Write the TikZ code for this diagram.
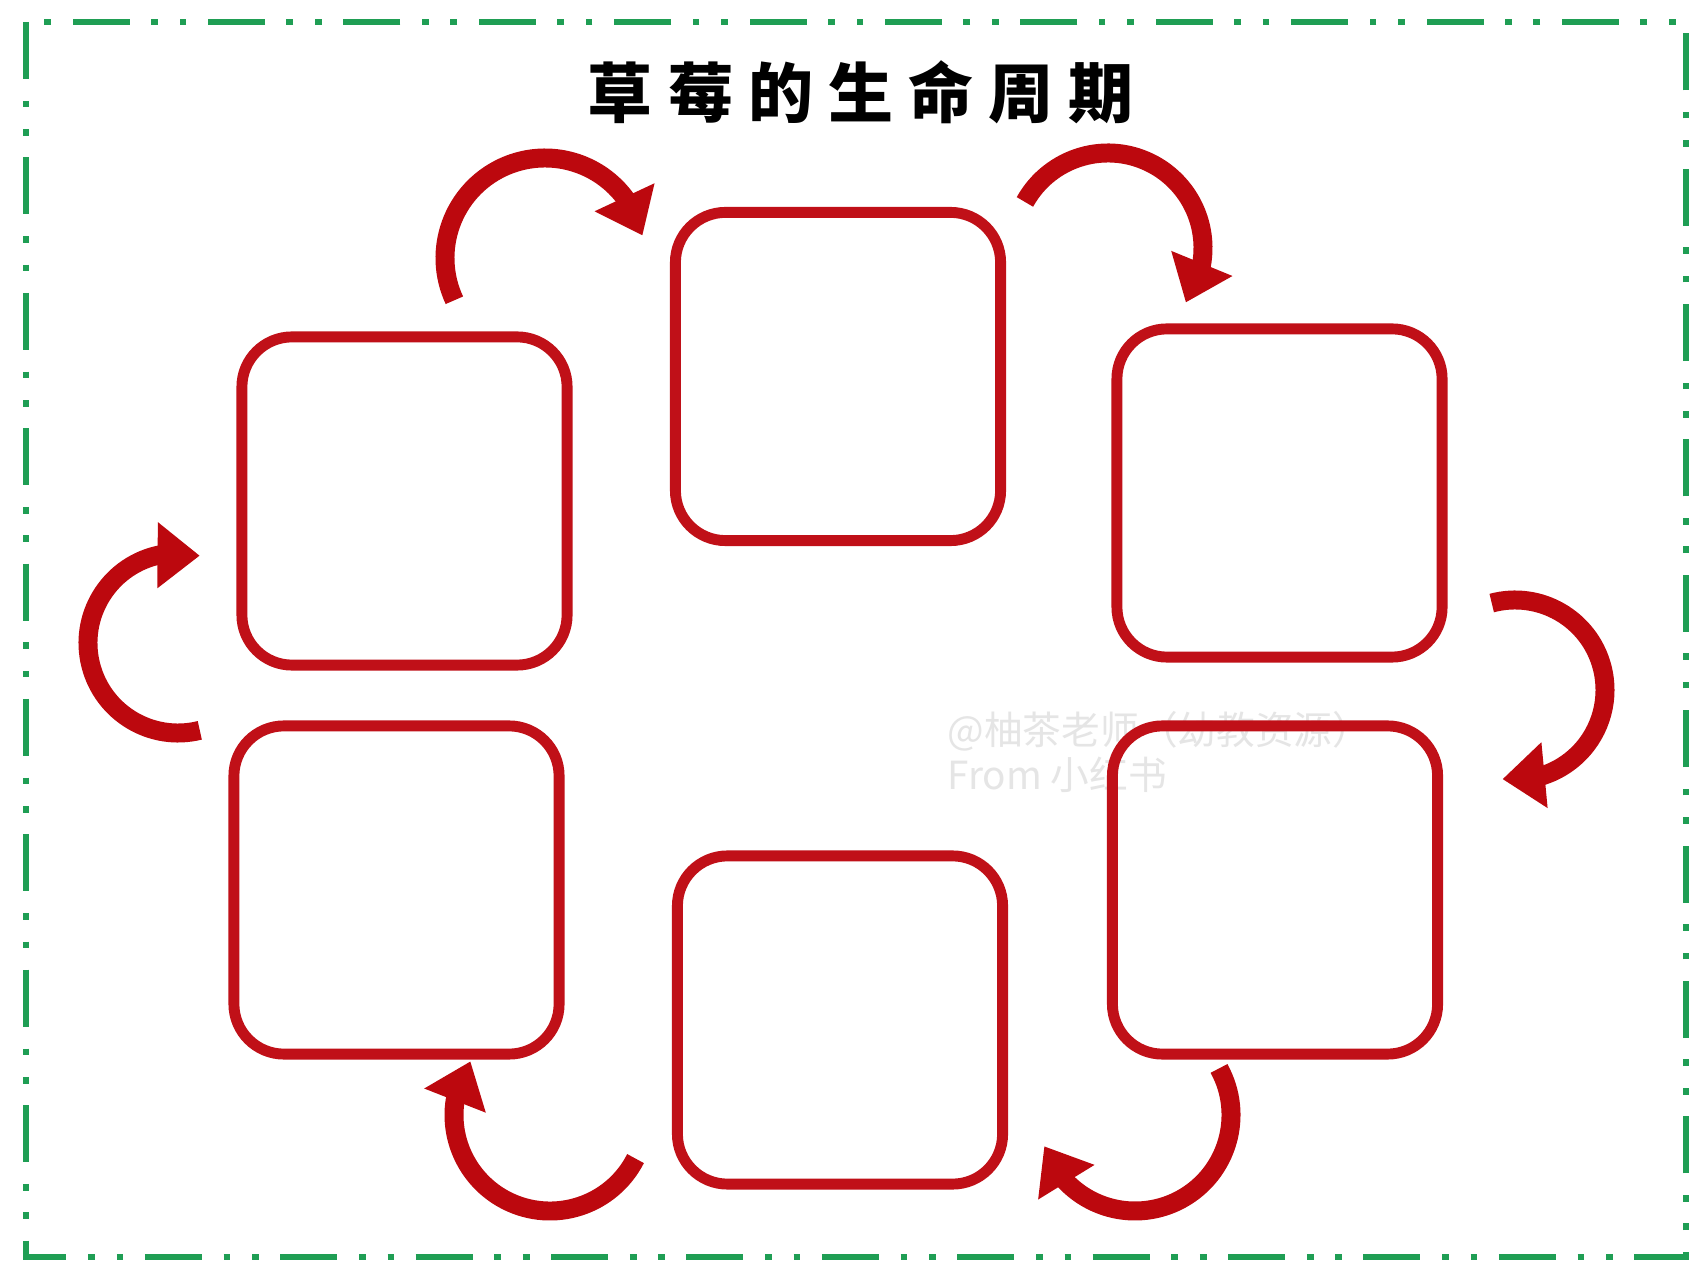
\documentclass[tikz,border=0pt]{standalone}
\usepackage{fontspec}
\newfontfamily\cjk{Noto Sans CJK SC}
\usetikzlibrary{arrows.meta,bending}
\definecolor{boxred}{RGB}{192,16,24}
\definecolor{arrred}{RGB}{188,8,14}
\definecolor{framegreen}{RGB}{31,158,84}
\begin{document}
\begin{tikzpicture}[x=0.01cm,y=0.01cm,
  stagebox/.style={draw=boxred, line width=3.1pt, rounded corners=0.5cm,
    minimum width=3.25cm, minimum height=3.28cm, inner sep=0pt},
  cyclearrow/.style={draw=arrred, line width=5.4pt,
    -{Triangle[width=18pt,length=12pt]}},
  framestyle/.style={draw=framegreen, line width=1.5pt,
    dash pattern=on 16.2pt off 6.2pt on 1.9pt off 6.2pt on 1.9pt off 6.1pt},
  titlestyle/.style={font=\cjk\bfseries\fontsize{18.5}{20}\selectfont, inner sep=0pt},
  wmstyle/.style={font=\cjk\fontsize{11}{12}\selectfont, text=black!10, inner sep=0pt, anchor=west}]
\fill[white] (0,0) rectangle (1707,-1280);
\useasboundingbox (0,0) rectangle (1707,-1280);
% frame
\draw[framestyle] (26,-22) rectangle (1686,-1257);
% title
\node[titlestyle] (title) at (861,-92) {草\hspace{4.3pt}莓\hspace{4.3pt}的\hspace{4.3pt}生\hspace{4.3pt}命\hspace{4.3pt}周\hspace{4.3pt}期};
% watermark
\node[wmstyle] (wm1) at (947,-731) {@柚茶老师（幼教资源）};
\node[wmstyle] (wm2) at (947,-775) {From 小红书};
% boxes
\node[stagebox] (b1) at (404.5,-501) {};
\node[stagebox] (b2) at (838,-376.5) {};
\node[stagebox] (b3) at (1279.5,-493) {};
\node[stagebox] (b6) at (1275,-890) {};
\node[stagebox] (b5) at (840,-1020) {};
\node[stagebox] (b4) at (396.5,-890) {};
% arc centres
\coordinate (cA) at (545,-258);
\coordinate (cB) at (1108,-248);
\coordinate (cC) at (1515,-690);
\coordinate (cD) at (1135,-1115);
\coordinate (cE) at (550,-1115);
\coordinate (cF) at (178,-643);
% arrows
\draw[cyclearrow] ([shift={(205:100)}]cA) arc[start angle=205, end angle=13, radius=100];
\draw[cyclearrow] ([shift={(151:95)}]cB) arc[start angle=151, end angle=-35, radius=95];
\draw[cyclearrow] ([shift={(105:90)}]cC) arc[start angle=105, end angle=-98, radius=90];
\draw[cyclearrow] ([shift={(29:96)}]cD) arc[start angle=29, end angle=-161, radius=96];
\draw[cyclearrow] ([shift={(333:96)}]cE) arc[start angle=333, end angle=146, radius=96];
\draw[cyclearrow] ([shift={(284:90)}]cF) arc[start angle=284, end angle=76, radius=90];
\end{tikzpicture}
\end{document}
